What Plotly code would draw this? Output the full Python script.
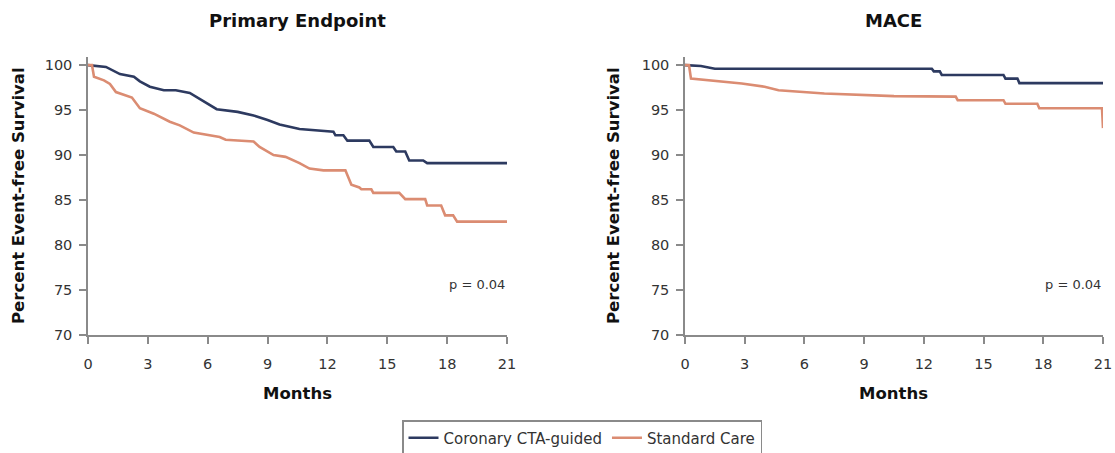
import plotly.graph_objects as go

# ---- data (months, percent event-free survival) ----
pe_cta_x = [0, 0.9, 1.6, 2.3, 2.6, 3.1, 3.8, 4.4, 5.1, 5.6, 6.45, 7.5, 8.3, 9.0, 9.6, 10.6, 11.5, 12.3, 12.4, 12.8, 13.0, 14.1, 14.3, 15.3, 15.45, 15.9, 16.1, 16.8, 17.0, 21]
pe_cta_y = [100, 99.8, 99.0, 98.7, 98.2, 97.6, 97.2, 97.2, 96.9, 96.2, 95.1, 94.8, 94.4, 93.9, 93.4, 92.9, 92.7, 92.6, 92.2, 92.2, 91.6, 91.6, 90.9, 90.9, 90.4, 90.4, 89.4, 89.4, 89.1, 89.1]
pe_sc_x = [0, 0.2, 0.3, 0.8, 1.1, 1.4, 2.2, 2.6, 3.3, 4.1, 4.6, 5.3, 6.6, 6.9, 8.3, 8.6, 9.3, 9.9, 10.6, 11.1, 11.8, 12.9, 13.2, 13.6, 13.7, 14.2, 14.3, 15.6, 15.9, 16.9, 17.0, 17.7, 17.9, 18.3, 18.5, 21]
pe_sc_y = [100, 100, 98.7, 98.3, 97.9, 97.0, 96.4, 95.2, 94.6, 93.7, 93.3, 92.5, 92.0, 91.7, 91.5, 90.9, 90.0, 89.8, 89.1, 88.5, 88.3, 88.3, 86.7, 86.4, 86.2, 86.2, 85.8, 85.8, 85.1, 85.1, 84.4, 84.4, 83.3, 83.3, 82.6, 82.6]

mace_cta_x = [0, 0.8, 1.5, 12.4, 12.5, 12.8, 12.9, 16.0, 16.1, 16.7, 16.8, 21]
mace_cta_y = [100, 99.9, 99.6, 99.6, 99.3, 99.3, 98.9, 98.9, 98.5, 98.5, 98.0, 98.0]
mace_sc_x = [0, 0.2, 0.3, 2.85, 4.0, 4.7, 7.0, 8.7, 10.5, 13.6, 13.7, 16.0, 16.1, 17.7, 17.8, 20.95, 21]
mace_sc_y = [100, 100, 98.5, 97.96, 97.6, 97.2, 96.85, 96.7, 96.55, 96.5, 96.1, 96.1, 95.7, 95.7, 95.2, 95.2, 93.0]

series_names = ["Coronary CTA-guided", "Standard Care"]
panel_titles = ["Primary Endpoint", "MACE"]
p_values = ["p = 0.04", "p = 0.04"]
x_ticks = [0, 3, 6, 9, 12, 15, 18, 21]
y_ticks = [70, 75, 80, 85, 90, 95, 100]

BLUE = "#2d3a60"
ORANGE = "#db8c72"
AXC = "#8a8a8a"
TXT = "#333333"
FONT = "DejaVu Sans, Liberation Sans, sans-serif"

fig = go.Figure()
fig.add_trace(go.Scatter(x=pe_cta_x, y=pe_cta_y, mode="lines", name=series_names[0],
                         line=dict(color=BLUE, width=2.6), xaxis="x", yaxis="y"))
fig.add_trace(go.Scatter(x=pe_sc_x, y=pe_sc_y, mode="lines", name=series_names[1],
                         line=dict(color=ORANGE, width=2.6), xaxis="x", yaxis="y"))
fig.add_trace(go.Scatter(x=mace_cta_x, y=mace_cta_y, mode="lines", name=series_names[0], showlegend=False,
                         line=dict(color=BLUE, width=2.6), xaxis="x2", yaxis="y2"))
fig.add_trace(go.Scatter(x=mace_sc_x, y=mace_sc_y, mode="lines", name=series_names[1], showlegend=False,
                         line=dict(color=ORANGE, width=2.6), xaxis="x2", yaxis="y2"))

W, H = 1115, 453
ydom = [1 - 335 / H, 1 - 57 / H]
xdom1 = [88 / W, 507 / W]
xdom2 = [685 / W, 1103 / W]

axis_common = dict(showline=True, linecolor=AXC, linewidth=1.5, ticks="outside", ticklen=7,
                   tickcolor=AXC, tickwidth=1.5, showgrid=False, zeroline=False, automargin=False,
                   tickfont=dict(family=FONT, size=14.5, color=TXT))
xcommon = dict(axis_common, range=[0, 21], tickvals=x_ticks, ticklabelstandoff=8)
ycommon = dict(axis_common, range=[70, 100.9], tickvals=y_ticks, ticklabelstandoff=4)

fig.update_layout(
    width=W, height=H,
    margin=dict(l=0, r=0, t=0, b=0, autoexpand=False),
    paper_bgcolor="white", plot_bgcolor="white",
    font=dict(family=FONT, color=TXT),
    xaxis=dict(xcommon, domain=xdom1, anchor="y"),
    yaxis=dict(ycommon, domain=ydom, anchor="x"),
    xaxis2=dict(xcommon, domain=xdom2, anchor="y2"),
    yaxis2=dict(ycommon, domain=ydom, anchor="x2"),
    showlegend=True,
    legend=dict(orientation="h", x=582 / W, xanchor="center", y=1 - 420 / H, yanchor="top",
                bordercolor=AXC, borderwidth=1.5, font=dict(family=FONT, size=15, color=TXT),
                itemwidth=30, tracegroupgap=0),
)

ann = []
for i, (cx, xref, yref) in enumerate([(297, "x", "y"), (893, "x2", "y2")]):
    ann.append(dict(text="<b>" + panel_titles[i] + "</b>", x=cx / W, y=1 - 20 / H, xref="paper", yref="paper",
                    showarrow=False, font=dict(family=FONT, size=18, color="#111111"),
                    xanchor="center", yanchor="middle"))
    ann.append(dict(text="<b>Months</b>", x=cx / W, y=1 - 393 / H, xref="paper", yref="paper",
                    showarrow=False, font=dict(family=FONT, size=16.5, color="#111111"),
                    xanchor="center", yanchor="middle"))
    ann.append(dict(text=p_values[i], x=21.0, y=75.6, xref=xref, yref=yref, showarrow=False,
                    font=dict(family=FONT, size=13, color=TXT), xanchor="right", yanchor="middle"))
for tx in (18, 613):
    ann.append(dict(text="<b>Percent Event-free Survival</b>", x=tx / W, y=1 - 196 / H,
                    xref="paper", yref="paper", showarrow=False, textangle=-90,
                    font=dict(family=FONT, size=16.5, color="#111111"), xanchor="center", yanchor="middle"))
fig.update_layout(annotations=ann)

fig.write_html("out.html", config={"displayModeBar": False},
               post_script="document.body.style.margin='0';document.body.style.overflow='hidden';")
